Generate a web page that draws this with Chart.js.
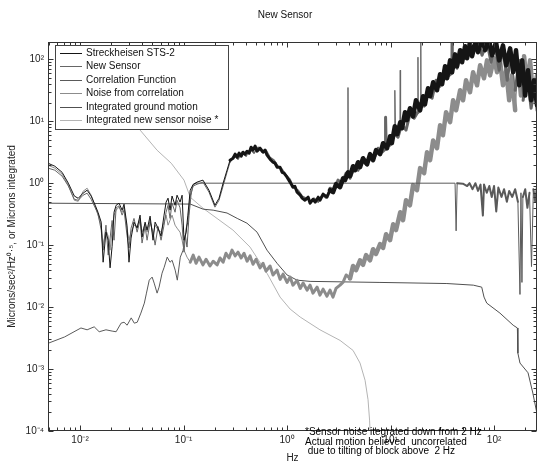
<!DOCTYPE html>
<html>
<head>
<meta charset="utf-8">
<script src="https://cdn.jsdelivr.net/npm/chart.js@4.4.1/dist/chart.umd.min.js"></script>
<style>
  body { margin: 0; background: #fff; }
  canvas { display: block; }
</style>
</head>
<body>
<canvas id="myChart" width="538" height="466"></canvas>
<script>
// values: [Hz, value]
const sts2 = [[0.0049,2.1],[0.0057,1.88],[0.0067,1.5],[0.0077,1.0],[0.0088,0.62],[0.0096,0.57],[0.0107,0.69],[0.0117,0.77],[0.0128,0.62],[0.014,0.44],[0.0149,0.34],[0.016,0.235],[0.0167,0.053],[0.0178,0.162],[0.0187,0.12],[0.0195,0.043],[0.0204,0.096],[0.0213,0.34],[0.0223,0.44],[0.0238,0.475],[0.0255,0.367],[0.0266,0.458],[0.0284,0.21],[0.0297,0.053],[0.0311,0.13],[0.0332,0.235],[0.0356,0.188],[0.038,0.305],[0.0397,0.135],[0.0425,0.235],[0.0444,0.175],[0.0475,0.294],[0.0507,0.12],[0.0531,0.235],[0.0567,0.188],[0.0606,0.14],[0.0648,0.305],[0.0678,0.494],[0.0708,0.573],[0.0741,0.367],[0.0774,0.62],[0.0828,0.44],[0.0865,0.64],[0.0925,0.494],[0.0968,0.64],[0.101,0.12],[0.106,0.162],[0.11,0.305],[0.116,0.77],[0.124,0.96],[0.135,1.04],[0.154,1.12],[0.176,0.77],[0.201,0.44],[0.22,0.57],[0.241,1.0],[0.263,1.62],[0.281,2.35],[0.301,2.53],[0.315,2.94],[0.329,2.62],[0.344,3.05],[0.36,2.72],[0.376,3.16],[0.393,2.94],[0.411,3.28],[0.43,3.05],[0.449,3.81],[0.469,3.41],[0.491,3.96],[0.513,3.28],[0.548,3.67],[0.586,3.16],[0.613,3.41],[0.641,2.83],[0.685,2.44],[0.732,2.18],[0.766,2.1],[0.80,1.81],[0.856,1.81],[0.895,1.5],[0.936,1.45],[1.0,1.25],[1.07,1.04],[1.14,0.86],[1.19,0.89],[1.25,0.716],[1.34,0.64],[1.40,0.573],[1.49,0.53],[1.6,0.594],[1.67,0.475],[1.78,0.55],[1.87,0.494],[2.0,0.594],[2.08,0.53],[2.23,0.665],[2.43,0.594],[2.6,0.77],[2.78,0.716],[2.97,0.963],[3.25,0.86],[3.48,1.2],[3.63,1.12],[3.88,1.5],[4.06,1.3],[4.34,1.88],[4.54,1.62],[4.85,2.18],[5.07,1.81],[5.42,2.53],[5.93,2.02],[6.34,2.94],[6.78,2.35],[7.24,3.41],[7.92,2.94],[8.47,4.42],[9.25,3.67],[9.89,5.73],[10.3,4.42],[11.0,8.3],[11.6,6.17],[12.4,9.64],[12.9,7.71],[13.8,14],[14.4,10.4],[15.4,16.2],[16.5,12.0],[17.6,21.8],[19.3,15],[20.6,25.3],[21.5,18.8],[23.0,34],[24.1,25.3],[25.8,42.5],[28.1,31.6],[30.1,57.3],[31.5,39.5],[33.6,77],[35.2,49.4],[37.6,96],[39.3,61.7],[42,120],[43.9,77],[47,140],[49.1,89.5],[52.5,162],[54.8,104],[58.6,175],[61.3,112],[67,202],[70,130],[76.6,218],[81.9,140],[89.5,202],[95.7,116],[104.5,188],[112,96],[122,168],[131,80],[143,150],[153,61.7],[163,140],[175,38],[187,96],[200,26],[213,66.5],[228,21.8],[243,45.8],[260,18.1]];

const newSensor = [[0.0049,1.75],[0.0057,1.62],[0.0067,1.3],[0.0077,0.9],[0.0088,0.55],[0.0096,0.53],[0.0107,0.64],[0.0117,0.69],[0.0128,0.55],[0.014,0.4],[0.0149,0.32],[0.016,0.175],[0.0167,0.083],[0.0178,0.21],[0.0187,0.069],[0.0195,0.13],[0.0204,0.25],[0.0213,0.12],[0.0223,0.4],[0.0238,0.43],[0.0255,0.305],[0.0266,0.367],[0.0284,0.145],[0.0297,0.09],[0.0311,0.188],[0.0332,0.27],[0.0356,0.162],[0.038,0.253],[0.0397,0.108],[0.0425,0.2],[0.0444,0.12],[0.0475,0.235],[0.0507,0.162],[0.0531,0.1],[0.0567,0.2],[0.0606,0.12],[0.0648,0.21],[0.0678,0.34],[0.0708,0.44],[0.0741,0.27],[0.0774,0.475],[0.0828,0.34],[0.0865,0.53],[0.0925,0.4],[0.0968,0.21],[0.101,0.077],[0.106,0.188],[0.11,0.235],[0.116,0.62],[0.124,0.9],[0.135,0.96],[0.154,1.04],[0.176,0.716],[0.201,0.41],[0.22,0.53],[0.241,0.9],[0.263,1.5],[0.281,2.18],[0.308,2.83],[0.336,2.44],[0.367,3.16],[0.402,2.72],[0.439,3.53],[0.48,3.05],[0.525,3.81],[0.574,3.16],[0.627,3.41],[0.685,2.62],[0.749,2.35],[0.819,1.88],[0.895,1.68],[0.978,1.35],[1.07,1.16],[1.17,0.83],[1.28,0.77],[1.40,0.62],[1.53,0.573],[1.67,0.513],[1.82,0.573],[2.0,0.494],[2.18,0.64],[2.38,0.573],[2.6,0.83],[2.84,0.77],[3.11,1.12],[3.4,1.0],[3.72,1.45],[3.86,1.4],[3.88,35],[3.9,1.4],[4.06,1.2],[4.44,1.75],[4.85,1.62],[5.3,2.35],[5.8,2.02],[6.34,2.72],[6.93,2.53],[7.57,3.67],[8.28,3.16],[8.85,3.5],[8.95,11.6],[9.05,4.58],[9.89,4.1],[10.8,6.4],[11.0,31.6],[11.2,6.0],[11.8,5.52],[12.3,7.0],[12.4,66.5],[12.5,7.5],[12.9,8.6],[14.1,7.2],[15.4,13],[16.9,11.2],[18.3,14],[18.4,108],[18.5,14],[19.3,18.8],[19.5,18],[19.6,200],[19.7,18],[21.1,17.5],[23.0,29.4],[25.2,23.5],[27.5,45.8],[30.1,36.7],[32.9,66.5],[35.9,53.2],[39.1,60],[39.3,200],[39.5,60],[40.2,89.5],[43.9,71.6],[48,140],[52.5,104],[57.4,188],[62.7,130],[70,200],[76.6,116],[85.5,188],[93.5,89.5],[102,175],[112,66.5],[122,150],[134,45.8],[146,130],[160,31.6],[175,96],[191,21.8],[208,61.7],[228,16.2],[249,38],[260,15]];

const correlation = [[0.0049,0.0026],[0.0071,0.0033],[0.0102,0.0046],[0.0117,0.0043],[0.0137,0.0048],[0.0153,0.004],[0.0178,0.0043],[0.0204,0.0041],[0.0223,0.004],[0.0249,0.0055],[0.0266,0.0057],[0.0285,0.0051],[0.0312,0.0067],[0.0334,0.0055],[0.0357,0.0057],[0.0387,0.008],[0.0418,0.0116],[0.0438,0.0168],[0.0466,0.0272],[0.0497,0.0305],[0.052,0.0244],[0.0555,0.0168],[0.058,0.021],[0.062,0.0353],[0.065,0.044],[0.0695,0.064],[0.074,0.053],[0.0775,0.057],[0.083,0.0395],[0.087,0.0272],[0.093,0.064],[0.099,0.083],[0.104,0.145],[0.108,0.093],[0.113,0.305],[0.118,0.64],[0.123,0.93],[0.132,1.0],[42,1.0],[43,0.17],[44,1.0],[50,0.98],[55,0.9],[58,1.0],[62,0.8],[66,1.0],[70,0.75],[74,0.95],[78,0.3],[80,0.95],[85,0.7],[90,0.9],[95,0.6],[100,0.9],[105,0.35],[110,0.85],[118,0.6],[125,0.8],[133,0.5],[140,0.75],[150,0.6],[160,0.8],[170,0.5],[178,0.016],[182,0.7],[186,0.025],[190,0.6],[200,0.8],[210,0.4],[220,0.7],[230,0.045],[240,0.8],[250,0.5],[260,0.9]];

const noiseCorr = [[0.0049,1.95],[0.0057,1.75],[0.0067,1.4],[0.0077,0.93],[0.0088,0.53],[0.0096,0.51],[0.0107,0.74],[0.0117,0.83],[0.0128,0.64],[0.014,0.425],[0.0149,0.305],[0.016,0.21],[0.0167,0.1],[0.0178,0.175],[0.0187,0.14],[0.0195,0.083],[0.0204,0.175],[0.0213,0.305],[0.0223,0.367],[0.0238,0.41],[0.0255,0.34],[0.0266,0.41],[0.0284,0.188],[0.0297,0.12],[0.0311,0.162],[0.0332,0.21],[0.0356,0.2],[0.038,0.27],[0.0397,0.162],[0.0425,0.218],[0.0444,0.162],[0.0475,0.253],[0.0507,0.145],[0.0531,0.21],[0.0567,0.175],[0.0606,0.162],[0.0648,0.235],[0.0678,0.305],[0.0708,0.21],[0.0741,0.253],[0.0774,0.305],[0.0828,0.21],[0.0865,0.188],[0.0925,0.162],[0.0968,0.12],[0.101,0.083],[0.108,0.064],[0.116,0.053],[0.124,0.069],[0.132,0.051],[0.141,0.064],[0.154,0.048],[0.165,0.059],[0.18,0.046],[0.193,0.055],[0.211,0.048],[0.225,0.062],[0.241,0.053],[0.257,0.074],[0.275,0.062],[0.294,0.083],[0.315,0.067],[0.336,0.077],[0.36,0.062],[0.384,0.074],[0.411,0.055],[0.439,0.067],[0.469,0.049],[0.502,0.059],[0.548,0.043],[0.586,0.051],[0.627,0.038],[0.685,0.046],[0.732,0.033],[0.80,0.0395],[0.856,0.028],[0.915,0.034],[1.0,0.025],[1.07,0.0305],[1.14,0.0226],[1.25,0.027],[1.34,0.020],[1.43,0.0244],[1.56,0.0188],[1.67,0.0226],[1.78,0.0168],[1.95,0.021],[2.08,0.0156],[2.23,0.0195],[2.43,0.015],[2.6,0.0188],[2.78,0.0145],[2.97,0.020],[3.25,0.0226],[3.48,0.0253],[3.72,0.033],[4.06,0.029],[4.34,0.046],[4.64,0.0395],[5.07,0.057],[5.42,0.048],[5.8,0.069],[6.34,0.057],[6.78,0.086],[7.24,0.072],[7.92,0.104],[8.47,0.09],[9.05,0.15],[9.89,0.12],[10.6,0.218],[11.3,0.175],[12.4,0.34],[13.2,0.253],[14.1,0.53],[15.4,0.44],[16.5,0.93],[18.0,0.77],[19.3,1.75],[21.1,1.45],[22.5,3.16],[24.1,2.35],[25.8,4.9],[28.1,3.67],[30.1,8.6],[32.1,5.94],[34.4,14],[37.6,9.64],[40.2,21.8],[43,15],[47,31.6],[50.2,21.8],[53.6,45.8],[58.6,29.4],[62.7,61.7],[68.5,38],[73.3,80],[80,49.4],[85.5,96],[91.5,55],[100,104],[107,61.7],[114,96],[122,38],[131,66],[140,21.8],[149,55],[160,15],[171,80],[182,26],[195,112],[208,38],[223,96],[238,26],[260,55]];

const groundMotion = [[0.0049,0.475],[0.116,0.46],[0.155,0.38],[0.193,0.367],[0.263,0.33],[0.33,0.27],[0.41,0.226],[0.513,0.162],[0.64,0.083],[0.80,0.051],[1.0,0.033],[1.25,0.0272],[1.67,0.026],[7.9,0.025],[35,0.024],[63,0.0226],[76,0.021],[80,0.0145],[85,0.0116],[114,0.008],[153,0.0051],[168,0.0046],[170,0.0018],[178,0.00125],[213,0.00087],[237,0.00041],[260,0.00019]];

const sensorNoiseInt = [[0.0238,21.8],[0.038,7.2],[0.0555,3.4],[0.076,2.1],[0.101,1.12],[0.116,0.594],[0.154,0.395],[0.215,0.263],[0.30,0.175],[0.439,0.093],[0.641,0.035],[0.856,0.0145],[1.07,0.0093],[1.34,0.0069],[2.08,0.0043],[3.25,0.0029],[4.34,0.002],[5.07,0.00125],[5.67,0.00066],[6.06,0.00032],[6.27,0.00015],[6.34,0.0001]];

const seriesNames = ['Streckheisen STS-2', 'New Sensor', 'Correlation Function', 'Noise from correlation', 'Integrated ground motion', 'Integrated new sensor noise *'];
const seriesColors = ['#151515', '#666666', '#5a5a5a', '#8c8c8c', '#505050', '#b4b4b4'];
const seriesData = [sts2, newSensor, correlation, noiseCorr, groundMotion, sensorNoiseInt];
// stroke width by frequency range: [from Hz, width]
const bandSteps = [
    [[0.28, 3], [2.5, 4.5]],
    [[0.28, 1.5], [2.5, 3]],
    [[44, 2]],
    [[0.11, 3], [4, 4.5]],
    [],
    []
];

const xTickValues = [0.01, 0.1, 1, 10, 100];
const xTickLabels = ['10⁻²', '10⁻¹', '10⁰', '10¹', '10²'];
const yTickValues = [1e-4, 1e-3, 1e-2, 1e-1, 1, 10, 100];
const yTickLabels = ['10⁻⁴', '10⁻³', '10⁻²', '10⁻¹', '10⁰', '10¹', '10²'];

const chartTitle = 'New Sensor';
const noteLines = ['*Sensor noise itegrated down from 2 Hz', 'Actual motion believed  uncorrelated', ' due to tilting of block above  2 Hz'];

const FONT = '"Liberation Sans", Arial, Helvetica, sans-serif';

function strokeFor(i, x) {
    let w = 1;
    bandSteps[i].forEach(s => { if (x >= s[0]) w = s[1]; });
    return w;
}

// box, inward tick marks, legend
const boxPlugin = {
    id: 'boxPlugin',
    afterDatasetsDraw(chart) {
        const { ctx, chartArea: a, scales } = chart;
        const xs = scales.x, ys = scales.y;
        ctx.save();
        ctx.strokeStyle = '#333';
        ctx.lineWidth = 1;
        const L = Math.round(a.left) + 0.5, R = Math.round(a.right) - 0.5;
        const T = Math.round(a.top) + 0.5, B = Math.round(a.bottom) - 0.5;
        ctx.strokeRect(L, T, R - L, B - T);
        ctx.beginPath();
        for (let e = -3; e <= 2; e++) {
            for (let k = 1; k <= 9; k++) {
                const v = k * Math.pow(10, e);
                if (v < xs.min || v > xs.max) continue;
                const px = Math.round(xs.getPixelForValue(v)) + 0.5;
                const len = k === 1 ? 5 : 3;
                ctx.moveTo(px, B); ctx.lineTo(px, B - len);
                ctx.moveTo(px, T); ctx.lineTo(px, T + len);
            }
        }
        for (let e = -4; e <= 2; e++) {
            for (let k = 1; k <= 9; k++) {
                const v = k * Math.pow(10, e);
                if (v < ys.min || v > ys.max) continue;
                const py = Math.round(ys.getPixelForValue(v)) + 0.5;
                const len = k === 1 ? 5 : 3;
                ctx.moveTo(L, py); ctx.lineTo(L + len, py);
                ctx.moveTo(R, py); ctx.lineTo(R - len, py);
            }
        }
        ctx.stroke();

        // legend box
        const lx = 55, ly = 45, lw = 173, lh = 84;
        ctx.fillStyle = '#fff';
        ctx.fillRect(lx, ly, lw, lh);
        ctx.strokeStyle = '#444';
        ctx.strokeRect(lx + 0.5, ly + 0.5, lw, lh);
        ctx.font = '10px ' + FONT;
        ctx.textBaseline = 'middle';
        ctx.textAlign = 'left';
        seriesNames.forEach((name, i) => {
            const yy = Math.round(53 + i * 13.4) + 0.5;
            ctx.strokeStyle = seriesColors[i];
            ctx.beginPath();
            ctx.moveTo(60, yy); ctx.lineTo(82, yy);
            ctx.stroke();
            ctx.fillStyle = '#111';
            ctx.fillText(name, 86, yy);
        });
        ctx.restore();
    },
    afterDraw(chart) {
        const ctx = chart.ctx;
        ctx.save();
        ctx.fillStyle = '#111';
        ctx.font = '10px ' + FONT;
        ctx.textBaseline = 'middle';
        ctx.textAlign = 'center';
        ctx.fillText(chartTitle, 285, 15);
        ctx.textAlign = 'left';
        ctx.fillStyle = '#000';
        noteLines.forEach((t, i) => ctx.fillText(t, 305, [432, 442, 451][i]));
        ctx.restore();
    }
};

const ctx = document.getElementById('myChart').getContext('2d');
new Chart(ctx, {
    type: 'line',
    data: {
        datasets: seriesData.map((d, i) => ({
            label: seriesNames[i],
            data: d.map(p => ({ x: p[0], y: p[1] })),
            borderColor: seriesColors[i],
            borderWidth: 1,
            borderCapStyle: 'round',
            borderJoinStyle: 'round',
            pointRadius: 0,
            fill: false,
            tension: 0,
            segment: {
                borderWidth: c => {
                    const jump = Math.abs(Math.log10(c.p1.parsed.y / c.p0.parsed.y));
                    if (jump > 0.6) return 1; // narrow spikes stay thin
                    return strokeFor(i, c.p0.parsed.x);
                }
            }
        }))
    },
    options: {
        responsive: false,
        animation: false,
        devicePixelRatio: 1,
        layout: { padding: { top: 42, right: 1, left: 0, bottom: 0 } },
        plugins: { legend: { display: false }, tooltip: { enabled: false }, title: { display: false } },
        scales: {
            x: {
                type: 'logarithmic',
                min: 0.0049,
                max: 260,
                afterFit: s => { s.height = 35; },
                afterBuildTicks: s => { s.ticks = xTickValues.map(v => ({ value: v })); },
                grid: { display: false, drawTicks: false },
                border: { display: false },
                ticks: {
                    autoSkip: false, maxRotation: 0, padding: 3,
                    color: '#222', font: { family: FONT, size: 10 },
                    callback: (v, i) => xTickLabels[i]
                },
                title: { display: true, text: 'Hz', color: '#222', font: { family: FONT, size: 10 }, padding: { top: 0, bottom: 2 } }
            },
            y: {
                type: 'logarithmic',
                min: 1e-4,
                max: 190,
                afterFit: s => { s.width = 48; },
                afterBuildTicks: s => { s.ticks = yTickValues.map(v => ({ value: v })); },
                grid: { display: false, drawTicks: false },
                border: { display: false },
                ticks: {
                    autoSkip: false, padding: 4,
                    color: '#222', font: { family: FONT, size: 10 },
                    callback: (v, i) => yTickLabels[i]
                },
                title: { display: true, text: 'Microns/sec²/Hz⁰·⁵, or Microns integrated', color: '#222', font: { family: FONT, size: 10 }, padding: { top: 6, bottom: 0 } }
            }
        }
    },
    plugins: [boxPlugin]
});
</script>
</body>
</html>
